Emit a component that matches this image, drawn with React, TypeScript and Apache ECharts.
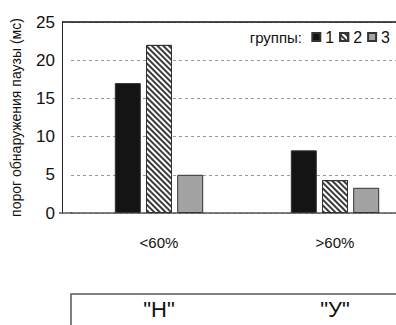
import React, { useEffect, useRef } from "react";
import * as echarts from "echarts";

const categories = ["<60%", ">60%"];
const bottomLabels = ['"Н"', '"У"'];
const group1 = [17, 8.2];
const group2 = [22, 4.3];
const group3 = [5, 3.3];
const seriesNames = ["1", "2", "3"];
const yTicks = [0, 5, 10, 15, 20, 25];

const FONT = "Liberation Sans, Arial, sans-serif";

export default function App() {
  const ref = useRef<HTMLDivElement>(null);
  useEffect(() => {
    const chart = echarts.init(ref.current!, null, { renderer: "svg" });
    const border = { borderColor: "#333", borderWidth: 1 };
    chart.setOption({
      animation: false,
      backgroundColor: "#fff",
      grid: {
        left: 71,
        right: -27,
        top: 22,
        bottom: 112,
        containLabel: false,
        outerBoundsMode: "none",
      },
      legend: {
        data: seriesNames,
        right: 1,
        top: 24,
        icon: "rect",
        itemWidth: 8,
        itemHeight: 8,
        itemGap: 5,
        textStyle: { fontFamily: FONT, fontSize: 16, color: "#111" },
      },
      xAxis: [
        {
          type: "category",
          data: categories,
          axisLine: { show: true, lineStyle: { color: "#555", width: 1.5 } },
          axisTick: { show: false },
          axisLabel: { fontFamily: FONT, fontSize: 15, color: "#111", margin: 22 },
        },
        {
          type: "category",
          data: bottomLabels,
          position: "bottom",
          offset: 81,
          axisLine: { show: true, lineStyle: { color: "#555", width: 1.5 } },
          axisTick: { show: false },
          axisLabel: { fontFamily: FONT, fontSize: 22, color: "#111", margin: 4 },
        },
      ],
      yAxis: {
        type: "value",
        min: 0,
        max: 25,
        interval: 5,
        offset: 9,
        name: "порог обнаружения паузы (мс)",
        nameLocation: "middle",
        nameGap: 39,
        nameTextStyle: { fontFamily: FONT, fontSize: 14, color: "#111" },
        axisLine: { show: true, lineStyle: { color: "#222", width: 1 } },
        axisTick: { show: false },
        axisLabel: {
          fontFamily: FONT,
          fontSize: 17,
          color: "#111",
          margin: 7,
          formatter: (v: number) => (yTicks.includes(v) ? String(v) : ""),
        },
        splitLine: { show: true, lineStyle: { color: "#999", type: [3, 3], width: 1 } },
      },
      series: [
        {
          name: seriesNames[0],
          type: "bar",
          data: group1,
          barWidth: 26,
          barGap: "20%",
          itemStyle: { color: "#141414", ...border },
        },
        {
          name: seriesNames[1],
          type: "bar",
          data: group2,
          barWidth: 26,
          barGap: "20%",
          itemStyle: {
            color: "#ffffff",
            ...border,
            decal: {
              symbol: "rect",
              symbolSize: 1,
              color: "#3a3a3a",
              backgroundColor: "#ffffff",
              dashArrayX: [1, 0],
              dashArrayY: [2, 2],
              rotation: Math.PI / 4,
            },
          },
        },
        {
          name: seriesNames[2],
          type: "bar",
          data: group3,
          barWidth: 26,
          barGap: "20%",
          itemStyle: { color: "#a3a3a3", ...border },
        },
      ],
      graphic: [
        {
          type: "line",
          shape: { x1: 62, y1: 22, x2: 396, y2: 22 },
          style: { stroke: "#111", lineWidth: 1.5 },
          z: 10,
        },
        {
          type: "line",
          shape: { x1: 59, y1: 213, x2: 72, y2: 213 },
          style: { stroke: "#555", lineWidth: 1.5 },
          z: 10,
        },
        {
          type: "line",
          shape: { x1: 71, y1: 294, x2: 71, y2: 325 },
          style: { stroke: "#555", lineWidth: 1.5 },
          z: 10,
        },
        {
          type: "text",
          right: 94,
          top: 30,
          style: { text: "группы:", font: `15px ${FONT}`, fill: "#111" },
        },
      ],
    });
    return () => chart.dispose();
  }, []);
  return (
    <div
      ref={ref}
      style={{ position: "fixed", left: 0, top: 0, width: 396, height: 325 }}
    />
  );
}
